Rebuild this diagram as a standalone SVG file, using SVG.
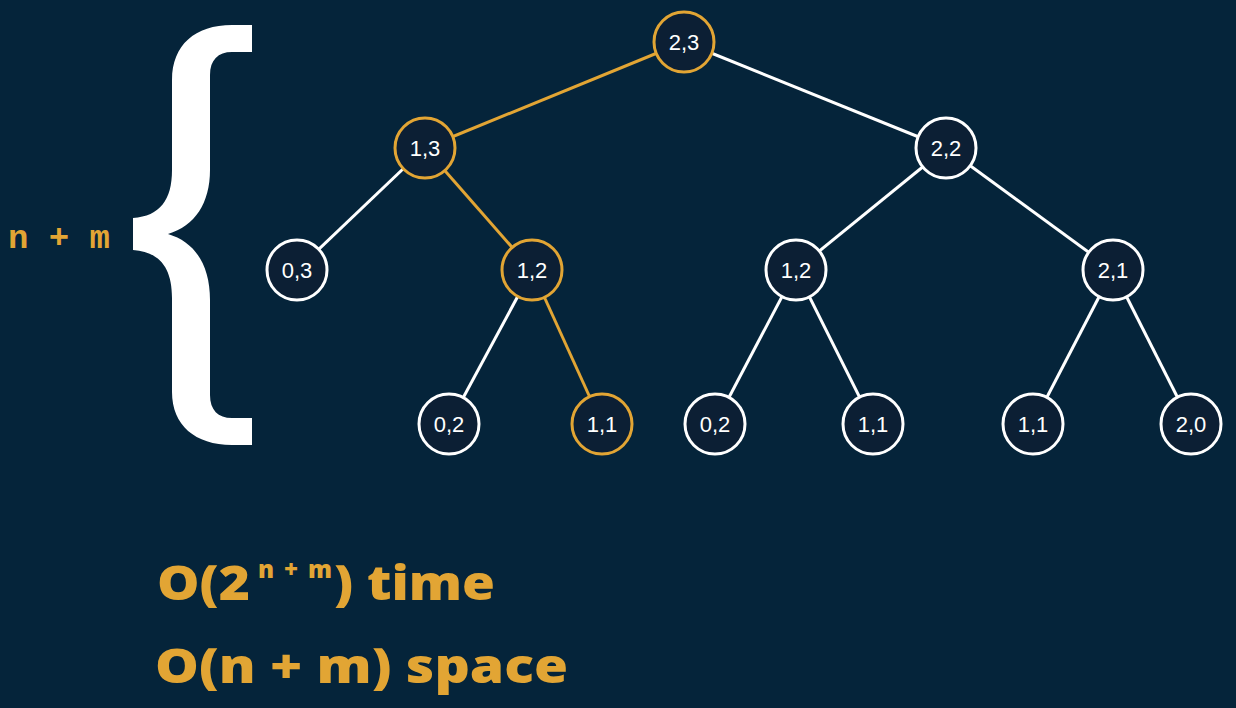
<svg xmlns="http://www.w3.org/2000/svg" width="1236" height="708" viewBox="0 0 1236 708">
<style>
.bg{fill:#05243a}
.e{stroke:#ffffff;stroke-width:3;fill:none}
.eo{stroke:#e2a534;stroke-width:3;fill:none}
.n circle{fill:#0c1f34;stroke:#ffffff;stroke-width:3}
.n.o circle{stroke:#e2a534}
.n text{fill:#ffffff;font-family:"Liberation Sans",Arial,sans-serif;font-size:22px;text-anchor:middle}
.big{fill:#e2a534;font-family:"Open Sans","Noto Sans",sans-serif;font-weight:800}
</style>
<rect class="bg" x="0" y="0" width="1236" height="708"/>
<path id="brace" fill="#ffffff" d="M252,25 L232,25 C195,25 172,45 172,80 L172,170 C172,200 160,216 133,218 L133,250 C160,252 172,268 172,298 L172,392 C172,425 195,445 232,445 L252,445 L252,418 L232,418 C218,418 210,410 210,395 L210,300 C210,265 195,242 168,234 C195,226 210,203 210,170 L210,75 C210,60 218,52 232,52 L252,52 Z"/>
<text id="nm" x="8" y="248" fill="#e2a534" font-family="'Liberation Mono',monospace" font-weight="bold" font-size="34">n + m</text>
<g id="connectors">
<line class="eo" x1="684" y1="42" x2="425" y2="148"/>
<line class="e" x1="684" y1="42" x2="946" y2="148"/>
<line class="e" x1="425" y1="148" x2="297" y2="270"/>
<line class="eo" x1="425" y1="148" x2="532" y2="270"/>
<line class="e" x1="946" y1="148" x2="796" y2="270"/>
<line class="e" x1="946" y1="148" x2="1113" y2="270"/>
<line class="e" x1="532" y1="270" x2="449" y2="424"/>
<line class="eo" x1="532" y1="270" x2="602" y2="424"/>
<line class="e" x1="796" y1="270" x2="715" y2="424"/>
<line class="e" x1="796" y1="270" x2="873" y2="424"/>
<line class="e" x1="1113" y1="270" x2="1033" y2="424"/>
<line class="e" x1="1113" y1="270" x2="1191" y2="424"/>
</g>
<g id="n23" class="n o"><circle cx="684" cy="42" r="30"/><text x="684" y="50">2,3</text></g>
<g id="n13" class="n o"><circle cx="425" cy="148" r="30"/><text x="425" y="156">1,3</text></g>
<g id="n22" class="n"><circle cx="946" cy="148" r="30"/><text x="946" y="156">2,2</text></g>
<g id="n03" class="n"><circle cx="297" cy="270" r="30"/><text x="297" y="278">0,3</text></g>
<g id="n12a" class="n o"><circle cx="532" cy="270" r="30"/><text x="532" y="278">1,2</text></g>
<g id="n12b" class="n"><circle cx="796" cy="270" r="30"/><text x="796" y="278">1,2</text></g>
<g id="n21" class="n"><circle cx="1113" cy="270" r="30"/><text x="1113" y="278">2,1</text></g>
<g id="n02a" class="n"><circle cx="449" cy="424" r="30"/><text x="449" y="432">0,2</text></g>
<g id="n11a" class="n o"><circle cx="602" cy="424" r="30"/><text x="602" y="432">1,1</text></g>
<g id="n02b" class="n"><circle cx="715" cy="424" r="30"/><text x="715" y="432">0,2</text></g>
<g id="n11b" class="n"><circle cx="873" cy="424" r="30"/><text x="873" y="432">1,1</text></g>
<g id="n11c" class="n"><circle cx="1033" cy="424" r="30"/><text x="1033" y="432">1,1</text></g>
<g id="n20" class="n"><circle cx="1191" cy="424" r="30"/><text x="1191" y="432">2,0</text></g>
<g id="complexity">
<text class="big" x="157" y="600" font-size="48" textLength="93" lengthAdjust="spacingAndGlyphs">O(2</text>
<text class="big" x="258" y="578" font-size="24" font-weight="600" textLength="74" lengthAdjust="spacing">n+m</text>
<text class="big" x="334" y="600" font-size="48" textLength="161" lengthAdjust="spacingAndGlyphs">) time</text>
<text class="big" x="155" y="683" font-size="48" textLength="413" lengthAdjust="spacingAndGlyphs">O(n + m) space</text>
</g>
</svg>
